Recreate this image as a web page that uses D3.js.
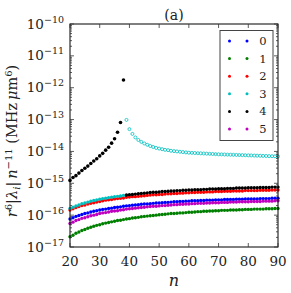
<!DOCTYPE html>
<html><head><meta charset="utf-8">
<script src="https://cdn.jsdelivr.net/npm/d3@7"></script>
<style>body{margin:0;background:#fff}svg{display:block}text{font-family:"DejaVu Serif",serif;fill:#222}</style>
</head><body><svg id="c" width="291" height="293"></svg>
<script>
// n values (principal quantum number)
const nAll = d3.range(20, 91);
const nLow = d3.range(20, 39);   // 20..38
const nHigh = d3.range(39, 91);  // 39..90
// log10 of r^6|lambda_i| n^-11
const s0_blue = [-16.12,-16.08,-16.04,-16.01,-15.98,-15.95,-15.93,-15.90,-15.88,-15.86,-15.84,-15.82,-15.81,-15.79,-15.78,-15.76,-15.75,-15.74,-15.72,-15.71,-15.70,-15.69,-15.68,-15.67,-15.66,-15.65,-15.65,-15.64,-15.63,-15.62,-15.62,-15.61,-15.60,-15.60,-15.59,-15.58,-15.58,-15.57,-15.57,-15.56,-15.56,-15.55,-15.55,-15.55,-15.54,-15.54,-15.53,-15.53,-15.53,-15.52,-15.52,-15.52,-15.51,-15.51,-15.51,-15.51,-15.50,-15.50,-15.50,-15.49,-15.49,-15.49,-15.49,-15.49,-15.48,-15.48,-15.48,-15.48,-15.47,-15.47,-15.47];
const s1_green = [-16.68,-16.63,-16.57,-16.53,-16.48,-16.45,-16.41,-16.38,-16.35,-16.32,-16.30,-16.27,-16.25,-16.23,-16.21,-16.19,-16.17,-16.16,-16.14,-16.12,-16.11,-16.09,-16.08,-16.07,-16.05,-16.04,-16.03,-16.02,-16.01,-16.00,-15.99,-15.98,-15.97,-15.96,-15.95,-15.95,-15.94,-15.93,-15.93,-15.92,-15.91,-15.91,-15.90,-15.89,-15.89,-15.88,-15.88,-15.87,-15.87,-15.86,-15.86,-15.85,-15.85,-15.85,-15.84,-15.84,-15.84,-15.83,-15.83,-15.82,-15.82,-15.82,-15.81,-15.81,-15.81,-15.81,-15.80,-15.80,-15.80,-15.79,-15.79];
const s2_red = [-15.84,-15.80,-15.76,-15.73,-15.70,-15.68,-15.65,-15.63,-15.61,-15.59,-15.57,-15.55,-15.53,-15.52,-15.51,-15.49,-15.48,-15.47,-15.46,-15.44,-15.43,-15.42,-15.42,-15.41,-15.40,-15.39,-15.38,-15.37,-15.36,-15.36,-15.35,-15.35,-15.34,-15.33,-15.33,-15.32,-15.32,-15.31,-15.31,-15.30,-15.30,-15.29,-15.29,-15.28,-15.28,-15.28,-15.27,-15.27,-15.27,-15.26,-15.26,-15.26,-15.25,-15.25,-15.25,-15.24,-15.24,-15.24,-15.24,-15.23,-15.23,-15.23,-15.23,-15.23,-15.22,-15.22,-15.22,-15.22,-15.21,-15.21,-15.21];
const s5_magenta = [-16.26,-16.22,-16.17,-16.14,-16.10,-16.08,-16.05,-16.02,-16.00,-15.98,-15.95,-15.93,-15.92,-15.90,-15.88,-15.87,-15.86,-15.84,-15.83,-15.81,-15.80,-15.79,-15.78,-15.77,-15.76,-15.75,-15.74,-15.73,-15.72,-15.72,-15.71,-15.70,-15.70,-15.69,-15.68,-15.67,-15.67,-15.66,-15.66,-15.65,-15.65,-15.64,-15.64,-15.63,-15.63,-15.63,-15.62,-15.62,-15.61,-15.61,-15.61,-15.60,-15.60,-15.60,-15.59,-15.59,-15.59,-15.58,-15.58,-15.58,-15.58,-15.57,-15.57,-15.57,-15.57,-15.56,-15.56,-15.56,-15.56,-15.55,-15.55];
// state 3 (cyan): lower branch n=20..38, upper branch n=39..90
const s3_cyan_low = [-15.79,-15.75,-15.71,-15.68,-15.64,-15.62,-15.59,-15.56,-15.54,-15.52,-15.50,-15.48,-15.47,-15.45,-15.44,-15.42,-15.41,-15.40,-15.38];
const s3_cyan_high = [-13.01,-13.30,-13.45,-13.56,-13.64,-13.70,-13.75,-13.79,-13.83,-13.86,-13.89,-13.91,-13.93,-13.95,-13.96,-13.98,-13.99,-14.00,-14.01,-14.02,-14.03,-14.04,-14.045,-14.05,-14.055,-14.06,-14.065,-14.07,-14.075,-14.08,-14.085,-14.09,-14.093,-14.096,-14.10,-14.103,-14.106,-14.11,-14.113,-14.116,-14.12,-14.123,-14.126,-14.13,-14.133,-14.136,-14.14,-14.143,-14.146,-14.15,-14.153,-14.156];
// state 4 (black): upper branch n=20..38, lower branch n=39..90
const s4_black_high = [-14.91,-14.82,-14.76,-14.68,-14.60,-14.53,-14.46,-14.38,-14.30,-14.23,-14.14,-14.06,-13.96,-13.87,-13.74,-13.60,-13.40,-13.09,-11.76];
const s4_black_low = [-15.37,-15.36,-15.35,-15.34,-15.33,-15.32,-15.31,-15.30,-15.29,-15.28,-15.28,-15.27,-15.26,-15.26,-15.25,-15.24,-15.24,-15.23,-15.23,-15.22,-15.22,-15.21,-15.21,-15.20,-15.20,-15.20,-15.19,-15.19,-15.18,-15.18,-15.18,-15.17,-15.17,-15.17,-15.16,-15.16,-15.16,-15.15,-15.15,-15.15,-15.15,-15.14,-15.14,-15.14,-15.14,-15.13,-15.13,-15.13,-15.13,-15.12,-15.12,-15.12];
const xTicks = [20,30,40,50,60,70,80,90];
const yTickExp = [-17,-16,-15,-14,-13,-12,-11,-10];
const legendLabels = ["0","1","2","3","4","5"];
const colors = ["#0000ff","#008000","#ff0000","#00bfbf","#000000","#bf00bf"];

const svg = d3.select("#c");
const L=70, R=278, T=24, B=247;
const x = d3.scaleLinear().domain([20,90]).range([L,R]);
const y = d3.scaleLog().domain([1e-17,1e-10]).range([B,T]);
const P = e => Math.pow(10,e);

const plot = svg.append("g");
function dots(ns, vals, color, r, open){
  plot.selectAll(null).data(ns.map((n,i)=>[n,P(vals[i])])).enter().append("circle")
    .attr("cx",d=>x(d[0])).attr("cy",d=>y(d[1])).attr("r",r)
    .attr("fill",open?"none":color).attr("stroke",open?color:"none").attr("stroke-width",0.8);
}
dots(nAll, s0_blue, colors[0], 1.7);
dots(nAll, s1_green, colors[1], 1.7);
dots(nAll, s2_red, colors[2], 1.7);
dots(nLow, s3_cyan_low, colors[3], 1.7);
dots(nHigh, s3_cyan_high, colors[3], 1.5, true);
dots(nLow, s4_black_high, colors[4], 1.8);
dots(nHigh, s4_black_low, colors[4], 1.7);
dots(nAll, s5_magenta, colors[5], 1.7);

// frame
svg.append("rect").attr("x",L).attr("y",T).attr("width",R-L).attr("height",B-T)
  .attr("fill","none").attr("stroke","#000").attr("stroke-width",1);

// ticks
const tg = svg.append("g").attr("stroke","#333").attr("stroke-width",0.8);
xTicks.forEach(t=>{
  tg.append("line").attr("x1",x(t)).attr("x2",x(t)).attr("y1",B).attr("y2",B-4);
  tg.append("line").attr("x1",x(t)).attr("x2",x(t)).attr("y1",T).attr("y2",T+4);
});
yTickExp.forEach(e=>{
  const yy=y(P(e));
  tg.append("line").attr("x1",L).attr("x2",L+4).attr("y1",yy).attr("y2",yy);
  tg.append("line").attr("x1",R).attr("x2",R-4).attr("y1",yy).attr("y2",yy);
  if(e<-10){ for(let m=2;m<=9;m++){ const ym=y(m*P(e));
    tg.append("line").attr("x1",L).attr("x2",L+2).attr("y1",ym).attr("y2",ym);
    tg.append("line").attr("x1",R).attr("x2",R-2).attr("y1",ym).attr("y2",ym);
  }}
});
// tick labels
xTicks.forEach(t=>{
  svg.append("text").attr("x",x(t)).attr("y",266).attr("text-anchor","middle")
    .attr("font-size",13.5).text(t);
});
yTickExp.forEach(e=>{
  const tx=svg.append("text").attr("x",64).attr("y",y(P(e))+4.5).attr("text-anchor","end").attr("font-size",13.5);
  tx.append("tspan").text("10");
  tx.append("tspan").attr("dy",-6).attr("font-size",9.5).text("\u2212"+(-e));
});
// title
svg.append("text").attr("x",174).attr("y",20).attr("text-anchor","middle").attr("font-size",14).text("(a)");
// x label
svg.append("text").attr("x",174).attr("y",286).attr("text-anchor","middle").attr("font-size",16).attr("font-style","italic").text("n");
// y label
const yl = svg.append("text").attr("transform","translate(17,141) rotate(-90)").attr("text-anchor","middle").attr("font-size",14.5);
yl.append("tspan").attr("font-style","italic").text("r");
yl.append("tspan").attr("dy",-5.5).attr("font-size",10).text("6");
yl.append("tspan").attr("dy",5.5).text("|");
yl.append("tspan").attr("font-style","italic").text("λ");
yl.append("tspan").attr("dy",3).attr("font-size",10).attr("font-style","italic").text("i");
yl.append("tspan").attr("dy",-3).text("|\u2009");
yl.append("tspan").attr("font-style","italic").text("n");
yl.append("tspan").attr("dy",-5.5).attr("font-size",10).text("\u221211");
yl.append("tspan").attr("dy",5.5).text(" (MHz\u2009");
yl.append("tspan").attr("font-style","italic").text("μ");
yl.append("tspan").text("m");
yl.append("tspan").attr("dy",-5.5).attr("font-size",10).text("6");
yl.append("tspan").attr("dy",5.5).text(")");

// legend
const lg = svg.append("g");
lg.append("rect").attr("x",220).attr("y",30.5).attr("width",53).attr("height",110)
  .attr("fill","#fff").attr("stroke","#444").attr("stroke-width",1);
legendLabels.forEach((lab,i)=>{
  const yy = 41 + i*17.6;
  [229.5,247].forEach(xx=> lg.append("circle").attr("cx",xx).attr("cy",yy).attr("r",1.5).attr("fill",colors[i]));
  lg.append("text").attr("x",263).attr("y",yy+4).attr("text-anchor","middle").attr("font-size",11.5).attr("fill","#444").text(lab);
});
</script></body></html>
